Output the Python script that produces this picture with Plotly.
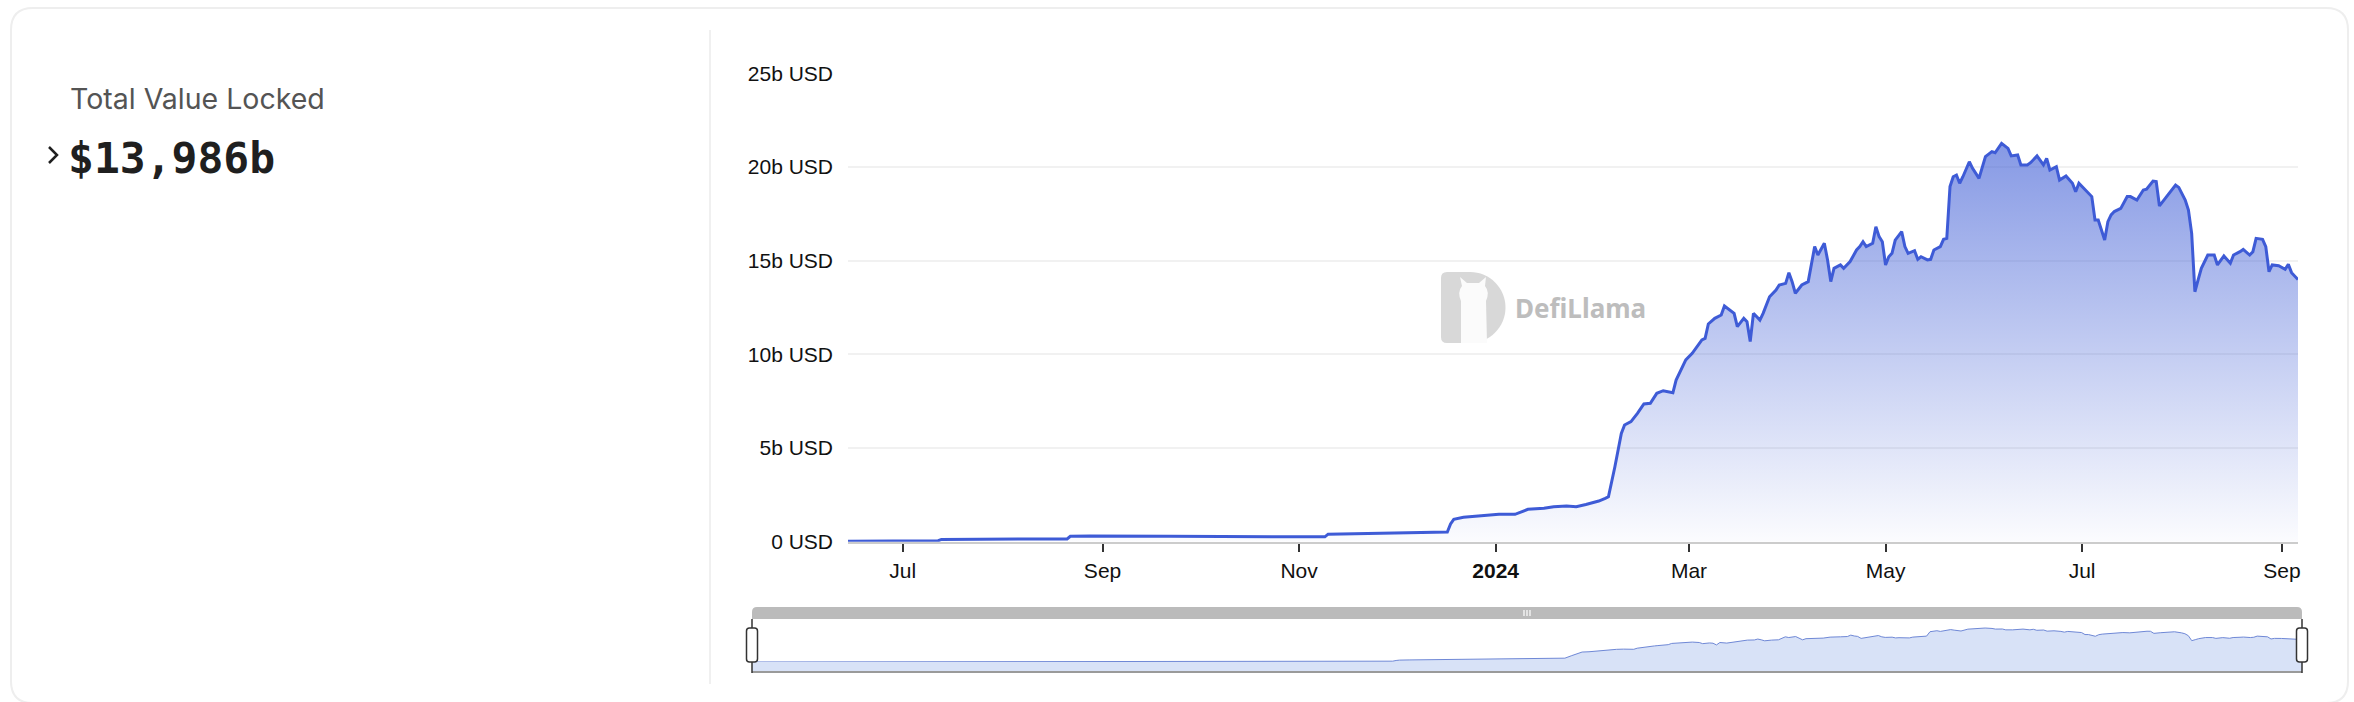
import plotly.graph_objects as go

W, H = 2354, 702

# ---------------- data ----------------
dates = [
    "2023-06-14", "2023-06-24", "2023-07-12", "2023-07-13", "2023-07-24", "2023-08-21",
    "2023-08-22", "2023-08-28", "2023-09-22", "2023-10-12", "2023-11-01", "2023-11-09",
    "2023-11-10", "2023-11-21", "2023-12-01", "2023-12-11", "2023-12-17", "2023-12-18",
    "2023-12-19", "2023-12-22", "2023-12-26", "2023-12-30",
    "2024-01-02", "2024-01-07", "2024-01-11", "2024-01-16", "2024-01-19", "2024-01-23",
    "2024-01-26", "2024-01-29", "2024-02-02", "2024-02-04", "2024-02-05", "2024-02-07",
    "2024-02-09", "2024-02-10", "2024-02-12", "2024-02-14", "2024-02-16", "2024-02-18",
    "2024-02-20", "2024-02-22", "2024-02-25", "2024-02-26", "2024-02-29", "2024-03-02",
    "2024-03-03", "2024-03-05", "2024-03-06", "2024-03-07", "2024-03-09", "2024-03-11",
    "2024-03-12", "2024-03-13", "2024-03-15", "2024-03-16", "2024-03-18", "2024-03-19",
    "2024-03-20", "2024-03-21", "2024-03-23", "2024-03-24", "2024-03-26", "2024-03-28",
    "2024-03-29", "2024-03-31", "2024-04-01", "2024-04-02", "2024-04-03", "2024-04-05",
    "2024-04-07", "2024-04-09", "2024-04-10", "2024-04-12", "2024-04-13", "2024-04-14",
    "2024-04-15", "2024-04-17", "2024-04-18", "2024-04-20", "2024-04-22", "2024-04-23",
    "2024-04-24", "2024-04-25", "2024-04-27", "2024-04-28", "2024-04-29", "2024-04-30",
    "2024-05-01", "2024-05-02", "2024-05-03", "2024-05-04", "2024-05-06", "2024-05-07",
    "2024-05-08", "2024-05-10", "2024-05-11", "2024-05-12", "2024-05-14", "2024-05-15",
    "2024-05-16", "2024-05-18", "2024-05-19", "2024-05-20", "2024-05-21", "2024-05-22",
    "2024-05-23", "2024-05-24", "2024-05-25", "2024-05-27", "2024-05-28", "2024-05-30",
    "2024-06-01", "2024-06-03", "2024-06-04", "2024-06-06", "2024-06-08", "2024-06-09",
    "2024-06-11", "2024-06-12", "2024-06-14", "2024-06-15", "2024-06-17", "2024-06-19",
    "2024-06-20", "2024-06-21", "2024-06-23", "2024-06-24", "2024-06-26", "2024-06-28",
    "2024-06-29", "2024-06-30", "2024-07-02", "2024-07-04", "2024-07-05", "2024-07-06",
    "2024-07-08", "2024-07-09", "2024-07-10", "2024-07-11", "2024-07-13", "2024-07-15",
    "2024-07-16", "2024-07-18", "2024-07-20", "2024-07-21", "2024-07-23", "2024-07-24",
    "2024-07-25", "2024-07-27", "2024-07-28", "2024-07-30", "2024-07-31", "2024-08-02",
    "2024-08-03", "2024-08-04", "2024-08-05", "2024-08-06", "2024-08-07", "2024-08-09",
    "2024-08-11", "2024-08-12", "2024-08-14", "2024-08-16", "2024-08-17", "2024-08-19",
    "2024-08-20", "2024-08-22", "2024-08-23", "2024-08-24", "2024-08-26", "2024-08-27",
    "2024-08-28", "2024-08-29", "2024-08-31", "2024-09-02", "2024-09-03", "2024-09-04",
    "2024-09-05", "2024-09-06",
]

tvl_billion = [
    0.02, 0.04, 0.05, 0.12, 0.13, 0.15,
    0.29, 0.31, 0.29, 0.27, 0.25, 0.26,
    0.40, 0.43, 0.46, 0.49, 0.52, 0.95,
    1.19, 1.30, 1.37, 1.42,
    1.46, 1.46, 1.73, 1.78, 1.87, 1.91,
    1.87, 1.99, 2.17, 2.31, 2.40, 4.00,
    5.78, 6.23, 6.41, 6.85, 7.35, 7.39,
    7.92, 8.06, 7.95, 8.63, 9.70, 10.05,
    10.27, 10.77, 10.85, 11.62, 11.92, 12.10,
    12.58, 12.46, 12.19, 11.48, 11.92, 11.74,
    10.68, 12.19, 11.83, 12.19, 13.07, 13.43,
    13.70, 13.79, 14.36, 13.88, 13.26, 13.70,
    13.88, 15.75, 15.30, 15.93, 15.04, 13.88,
    14.59, 14.77, 14.59, 14.95, 15.57, 15.75,
    16.01, 15.75, 15.93, 16.81, 16.28, 16.01,
    14.77, 15.21, 15.39, 16.10, 16.55, 15.75,
    15.39, 15.53, 15.07, 15.21, 15.04, 15.07,
    15.57, 15.75, 16.14, 16.19, 18.95, 19.48,
    19.57, 19.13, 19.48, 20.28, 19.93, 19.39,
    20.55, 20.82, 20.76, 21.26, 20.99, 20.59,
    20.64, 20.11, 20.11, 20.23, 20.59, 20.11,
    20.46, 19.84, 20.02, 19.30, 19.52, 19.13,
    18.68, 19.13, 18.77, 18.42, 17.17, 17.17,
    16.10, 17.08, 17.44, 17.62, 17.79, 18.42,
    18.42, 18.24, 18.77, 18.81, 19.25, 19.22,
    17.92, 18.33, 18.59, 19.04, 18.91, 18.24,
    17.70, 16.46, 13.34, 13.97, 14.59, 15.30,
    15.30, 14.77, 15.25, 14.86, 15.30, 15.48,
    15.60, 15.30, 15.48, 16.19, 16.14, 15.75,
    14.41, 14.77, 14.73, 14.54, 14.80, 14.36,
    14.18, 13.99,
]
tvl = [v * 1e9 for v in tvl_billion]

y_tick_values = [0, 5e9, 10e9, 15e9, 20e9, 25e9]
y_tick_labels = ["0 USD", "5b USD", "10b USD", "15b USD", "20b USD", "25b USD"]
x_tick_values = ["2023-07-01", "2023-09-01", "2023-11-01", "2024-01-01",
                 "2024-03-01", "2024-05-01", "2024-07-01", "2024-09-01"]
x_tick_labels = ["Jul", "Sep", "Nov", "<b>2024</b>", "Mar", "May", "Jul", "Sep"]

title_text = "Total Value Locked"
value_text = "$13,986b"
watermark_text = "DefiLlama"

# ---------------- styling ----------------
LINE = "#3e5bd6"
MINI_FILL = "#d8e2f7"
MINI_LINE = "#6f88d6"


def px(x):
    return x / W


def py(y):
    return 1 - y / H


def pt(x, y):
    return f"{px(x):.6f},{py(y):.6f}"


fig = go.Figure()

# main area chart
fig.add_trace(go.Scatter(
    x=dates, y=tvl, mode="lines",
    line=dict(color=LINE, width=3),
    fill="tozeroy",
    fillgradient=dict(type="vertical",
                      colorscale=[[0, "rgba(66,96,214,0.02)"], [1, "rgba(66,96,214,0.64)"]],
                      start=0, stop=max(tvl)),
    xaxis="x", yaxis="y", hoverinfo="skip",
))

# mini chart in the zoom slider
fig.add_trace(go.Scatter(
    x=dates, y=tvl, mode="lines",
    line=dict(color=MINI_LINE, width=1),
    fill="tozeroy", fillcolor=MINI_FILL,
    xaxis="x2", yaxis="y2", hoverinfo="skip",
))

x0_main, x1_main = 848, 2298
y_top, y_zero = 73.3, 541.7
sx0, sx1 = 752, 2302
mini_top, mini_zero, mini_bot = 619, 662, 672

fig.update_layout(
    template="none",
    width=W, height=H, autosize=False,
    margin=dict(l=0, r=0, t=0, b=0, pad=0, autoexpand=False),
    paper_bgcolor="white", plot_bgcolor="rgba(0,0,0,0)",
    showlegend=False, hovermode=False,
    xaxis=dict(
        domain=[px(x0_main), px(x1_main)],
        range=[dates[0], dates[-1]],
        type="date", automargin=False,
        tickvals=x_tick_values, ticktext=x_tick_labels,
        ticks="outside", ticklen=8, tickwidth=2, tickcolor="#333333",
        showline=True, linecolor="#cccccc", linewidth=2,
        showgrid=False, zeroline=False,
        tickfont=dict(family="Liberation Sans, Arial", size=21, color="#111111"),
        ticklabelstandoff=1,
        anchor="y", fixedrange=True,
    ),
    yaxis=dict(
        domain=[py(y_zero), py(y_top)],
        range=[0, 25e9], automargin=False,
        tickvals=y_tick_values, ticktext=y_tick_labels,
        ticks="", showline=False, zeroline=False,
        showgrid=True, gridcolor="#f1f1f1", gridwidth=2,
        tickfont=dict(family="Liberation Sans, Arial", size=21, color="#111111"),
        ticklabelstandoff=14,
        anchor="x", fixedrange=True,
    ),
    xaxis2=dict(
        domain=[px(sx0), px(sx1)],
        range=[dates[0], dates[-1]],
        type="date", visible=False, anchor="y2", fixedrange=True, automargin=False,
    ),
    yaxis2=dict(
        domain=[py(mini_zero), py(mini_top)],
        range=[0, 26.9e9], visible=False, anchor="x2", fixedrange=True, automargin=False,
    ),
)

shapes = []
# outer card
r = 22
cx0, cy0, cx1, cy1 = 11, 8, 2348, 703
card_path = (f"M {pt(cx0 + r, cy0)} L {pt(cx1 - r, cy0)} Q {pt(cx1, cy0)} {pt(cx1, cy0 + r)} "
             f"L {pt(cx1, cy1 - r)} Q {pt(cx1, cy1)} {pt(cx1 - r, cy1)} "
             f"L {pt(cx0 + r, cy1)} Q {pt(cx0, cy1)} {pt(cx0, cy1 - r)} "
             f"L {pt(cx0, cy0 + r)} Q {pt(cx0, cy0)} {pt(cx0 + r, cy0)} Z")
shapes.append(dict(type="path", path=card_path, xref="paper", yref="paper",
                   line=dict(color="#eeeeee", width=2), fillcolor="rgba(0,0,0,0)", layer="below"))
# divider between info panel and chart panel
shapes.append(dict(type="line", xref="paper", yref="paper",
                   x0=px(710), x1=px(710), y0=py(30), y1=py(684),
                   line=dict(color="#f0f0f0", width=2), layer="below"))

# chevron
shapes.append(dict(type="path", xref="paper", yref="paper",
                   path=f"M {pt(49, 147)} L {pt(57, 155)} L {pt(49, 163)}",
                   line=dict(color="#1f1f1f", width=2.5)))

# watermark logo (D shape + llama silhouette)
lx0, ly0, ly1 = 1441, 272, 343
rc = (ly1 - ly0) / 2
cxr = 1470
k = 0.5523 * rc
d_path = (f"M {pt(lx0 + 6, ly0)} L {pt(cxr, ly0)} "
          f"C {pt(cxr + k, ly0)} {pt(cxr + rc, ly0 + rc - k)} {pt(cxr + rc, ly0 + rc)} "
          f"C {pt(cxr + rc, ly0 + rc + k)} {pt(cxr + k, ly1)} {pt(cxr, ly1)} "
          f"L {pt(lx0 + 6, ly1)} Q {pt(lx0, ly1)} {pt(lx0, ly1 - 6)} "
          f"L {pt(lx0, ly0 + 6)} Q {pt(lx0, ly0)} {pt(lx0 + 6, ly0)} Z")
shapes.append(dict(type="path", xref="paper", yref="paper", path=d_path,
                   fillcolor="#d8d8d8", line=dict(width=0), layer="below"))
llama = (f"M {pt(1461, 343)} L {pt(1461, 301)} Q {pt(1457, 292)} {pt(1462, 286)} "
         f"L {pt(1460, 277)} L {pt(1467, 283)} L {pt(1479, 283)} L {pt(1486, 277)} "
         f"L {pt(1485, 286)} Q {pt(1490, 292)} {pt(1486, 301)} L {pt(1487, 343)} Z")
shapes.append(dict(type="path", xref="paper", yref="paper", path=llama,
                   fillcolor="#fbfbfb", line=dict(width=0), layer="below"))

# zoom slider decorations
shapes.append(dict(type="rect", xref="paper", yref="paper",
                   x0=px(sx0), x1=px(sx1), y0=py(mini_bot), y1=py(mini_zero),
                   fillcolor=MINI_FILL, line=dict(width=0), layer="below"))
rr = 5
bar_path = (f"M {pt(sx0, 619)} L {pt(sx0, 607 + rr)} Q {pt(sx0, 607)} {pt(sx0 + rr, 607)} "
            f"L {pt(sx1 - rr, 607)} Q {pt(sx1, 607)} {pt(sx1, 607 + rr)} L {pt(sx1, 619)} Z")
shapes.append(dict(type="path", xref="paper", yref="paper", path=bar_path,
                   fillcolor="#bbbbbb", line=dict(width=0)))
for gx in (1524, 1527, 1530):
    shapes.append(dict(type="line", xref="paper", yref="paper",
                       x0=px(gx), x1=px(gx), y0=py(610), y1=py(616),
                       line=dict(color="white", width=1.2)))
shapes.append(dict(type="line", xref="paper", yref="paper",
                   x0=px(sx0), x1=px(sx1), y0=py(mini_bot), y1=py(mini_bot),
                   line=dict(color="#9a9a9a", width=2)))
for hx in (sx0, sx1):
    shapes.append(dict(type="line", xref="paper", yref="paper",
                       x0=px(hx), x1=px(hx), y0=py(619), y1=py(673),
                       line=dict(color="#333333", width=1.5)))
    hr = 3
    hx0, hx1, hy0, hy1 = hx - 5.5, hx + 5.5, 628, 662
    h_path = (f"M {pt(hx0 + hr, hy0)} L {pt(hx1 - hr, hy0)} Q {pt(hx1, hy0)} {pt(hx1, hy0 + hr)} "
              f"L {pt(hx1, hy1 - hr)} Q {pt(hx1, hy1)} {pt(hx1 - hr, hy1)} "
              f"L {pt(hx0 + hr, hy1)} Q {pt(hx0, hy1)} {pt(hx0, hy1 - hr)} "
              f"L {pt(hx0, hy0 + hr)} Q {pt(hx0, hy0)} {pt(hx0 + hr, hy0)} Z")
    shapes.append(dict(type="path", xref="paper", yref="paper", path=h_path,
                       fillcolor="white", line=dict(color="#333333", width=1.5)))

fig.update_layout(shapes=shapes)

fig.add_annotation(text=title_text, x=px(68), y=py(99), xref="paper", yref="paper",
                   xanchor="left", yanchor="middle", showarrow=False,
                   font=dict(family="Inter, Liberation Sans", size=28.5, color="#545454"))
fig.add_annotation(text=f"<b>{value_text}</b>", x=px(66), y=py(158), xref="paper", yref="paper",
                   xanchor="left", yanchor="middle", showarrow=False,
                   font=dict(family="DejaVu Sans Mono", size=43, color="#1f1f1f"))
fig.add_annotation(text=f"<b>{watermark_text}</b>", x=px(1513), y=py(308), xref="paper", yref="paper",
                   xanchor="left", yanchor="middle", showarrow=False,
                   font=dict(family="Noto Sans", size=26, color="#bdbdbd"))

fig.write_html("out.html",
               config={"displayModeBar": False, "staticPlot": True},
               post_script="document.body.style.margin='0px';document.body.style.overflow='hidden';")
